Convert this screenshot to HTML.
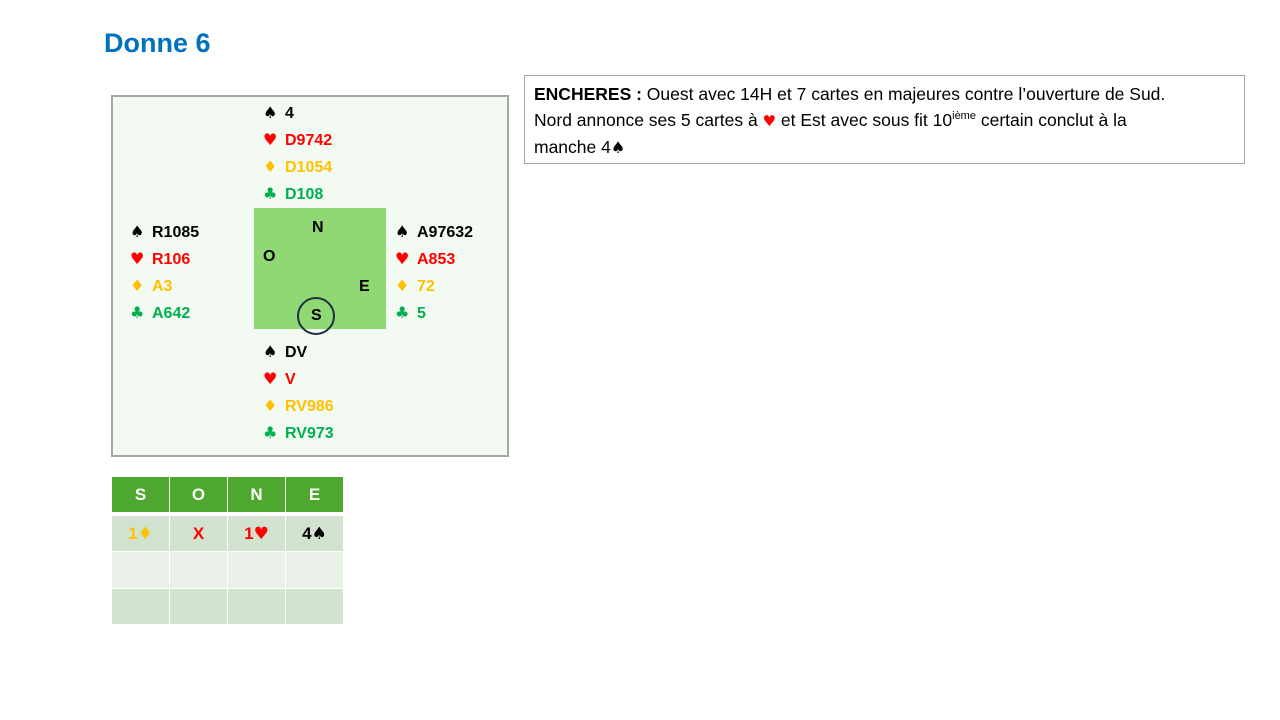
<!DOCTYPE html>
<html><head><meta charset="utf-8"><style>
body{margin:0;width:1280px;height:720px;background:#fff;position:relative;font-family:"Liberation Sans",sans-serif;overflow:hidden}
.a{position:absolute;white-space:nowrap}
.h{font-weight:bold;font-size:16px;line-height:26px}
.k{color:#000}.r{color:#f00}.y{color:#ffc000}.g{color:#00b050}
.s{display:inline-block;width:22px;font-size:16px;font-family:"DejaVu Sans",sans-serif}
table{position:absolute;left:111px;top:476px;border-collapse:collapse}
td{width:57px;text-align:center;font-weight:bold;font-size:17px;border:1px solid #fff;padding:0}
td span{font-family:"DejaVu Sans",sans-serif;font-size:17px}
</style></head><body>
<div class="a" style="left:104px;top:28px;font-size:27px;font-weight:bold;color:#0070c0">Donne 6</div>
<div class="a" style="left:111px;top:95px;width:394px;height:358px;border:2px solid #a6a6a6;background:#f3faf1"></div>
<div class="a" style="left:254px;top:208px;width:132px;height:121px;background:#8fd873"></div>
<div class="a" style="left:297px;top:297px;width:34px;height:34px;border:2px solid #1f2f3f;border-radius:50%"></div>
<div class="a h" style="left:312px;top:215px">N</div>
<div class="a h" style="left:263px;top:244px">O</div>
<div class="a h" style="left:359px;top:274px">E</div>
<div class="a h" style="left:311px;top:303px">S</div>

<div class="a h" style="left:263px;top:100px">
<div class="k"><span class="s">♠</span>4</div><div class="r"><span class="s">♥</span>D9742</div><div class="y"><span class="s">♦</span>D1054</div><div class="g"><span class="s">♣</span>D108</div></div>
<div class="a h" style="left:130px;top:219px">
<div class="k"><span class="s">♠</span>R1085</div><div class="r"><span class="s">♥</span>R106</div><div class="y"><span class="s">♦</span>A3</div><div class="g"><span class="s">♣</span>A642</div></div>
<div class="a h" style="left:395px;top:219px">
<div class="k"><span class="s">♠</span>A97632</div><div class="r"><span class="s">♥</span>A853</div><div class="y"><span class="s">♦</span>72</div><div class="g"><span class="s">♣</span>5</div></div>
<div class="a h" style="left:263px;top:339px">
<div class="k"><span class="s">♠</span>DV</div><div class="r"><span class="s">♥</span>V</div><div class="y"><span class="s">♦</span>RV986</div><div class="g"><span class="s">♣</span>RV973</div></div>

<div class="a" style="left:524px;top:75px;width:701px;height:77px;border:1px solid #a6a6a6;padding:5px 9px;font-size:17.5px;line-height:26px;white-space:nowrap">
<b>ENCHERES :</b> Ouest avec 14H et 7 cartes en majeures contre l’ouverture de Sud.<br>Nord annonce ses 5 cartes à <span style="color:#f00;font-family:'DejaVu Sans';font-size:15px">♥</span> et Est avec sous fit 10<sup style="font-size:11px;line-height:0">ième</sup> certain conclut à la<br>manche 4<span style="font-family:'DejaVu Sans';font-size:16px">♠</span></div>

<table>
<tr style="height:36px;background:#4ea72e;color:#fff"><td>S</td><td>O</td><td>N</td><td>E</td></tr>
<tr style="height:3px;background:#fff"><td colspan="4" style="border:none"></td></tr>
<tr style="height:36px;background:#d1e2cf"><td style="color:#ffc000">1<span>♦</span></td><td style="color:#f00">X</td><td style="color:#f00">1<span>♥</span></td><td>4<span>♠</span></td></tr>
<tr style="height:37px;background:#e9f0e8"><td></td><td></td><td></td><td></td></tr>
<tr style="height:36px;background:#d1e2cf"><td></td><td></td><td></td><td></td></tr>
</table>
</body></html>
